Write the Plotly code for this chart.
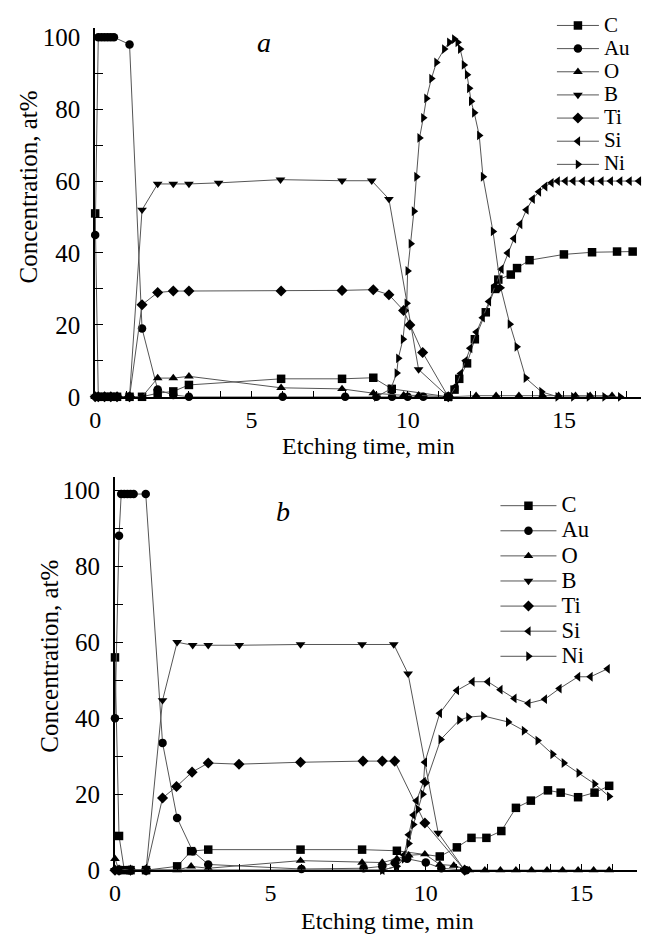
import plotly.graph_objects as go

# ---------------- Data: panel a ----------------
C_a_t = [0, 0.1, 0.3, 0.5, 0.7, 1.1, 1.5, 2.0, 2.5, 3.0, 5.95, 7.9, 8.9, 9.49, 11.3, 11.5, 11.65, 11.9, 12.15, 12.5, 12.8, 12.9, 13.3, 13.5, 13.9, 15.0, 15.9, 16.7, 17.2]
C_a_v = [51, 0, 0, 0, 0, 0, 0, 1, 1.5, 3.3, 5, 5, 5.3, 2.2, 0, 2, 5, 9.3, 16, 23.5, 30, 32.6, 34, 35.8, 38, 39.6, 40.2, 40.4, 40.4]

Au_a_t = [0, 0.1, 0.2, 0.3, 0.4, 0.5, 0.6, 1.1, 1.5, 2.0, 2.5, 3.0, 6.0, 8.0, 9.0, 9.5, 10.0, 10.5, 11.3]
Au_a_v = [45, 100, 100, 100, 100, 100, 100, 98, 19, 2, 0.5, 0, 0, 0, 0, 0, 0, 0, 0]

O_a_t = [0, 0.1, 0.3, 0.5, 0.7, 1.1, 1.5, 2.0, 2.5, 3.0, 5.95, 7.9, 8.9, 9.87, 10.35, 11.33, 12.19, 12.83, 13.56, 14.32, 14.83, 15.37, 15.84, 16.54]
O_a_v = [0, 0, 0, 0, 0, 0, 0, 5.2, 5.2, 5.7, 2.5, 2.2, 1.0, 0.4, 0.4, 0, 0.3, 0.3, 0.3, 0.3, 0.3, 0.3, 0.3, 0.3]

B_a_t = [0, 0.1, 0.3, 0.5, 0.7, 1.1, 1.5, 2.0, 2.5, 3.0, 3.95, 5.93, 7.9, 8.85, 9.4, 10.35, 11.3]
B_a_v = [0, 0, 0, 0, 0, 0, 52, 59.2, 59.2, 59.2, 59.5, 60.4, 60.1, 60.1, 55, 7.6, 0]

Ti_a_t = [0, 0.1, 0.3, 0.5, 0.7, 1.1, 1.5, 2.0, 2.5, 3.0, 5.95, 7.9, 8.9, 9.4, 9.87, 10.07, 10.48, 11.3]
Ti_a_v = [0, 0, 0, 0, 0, 0, 25.6, 29, 29.4, 29.4, 29.4, 29.6, 29.8, 28.4, 24, 20, 12.3, 0]

Si_a_t = [11.33, 11.55, 11.7, 11.85, 12.0, 12.2, 12.4, 12.6, 12.8, 13.0, 13.2, 13.4, 13.6, 13.8, 14.0, 14.2, 14.4, 14.6, 14.8, 15.05, 15.3, 15.6, 15.9, 16.2, 16.5, 16.8, 17.1, 17.4, 17.65]
Si_a_v = [0, 3, 6.5, 10, 13.5, 18, 22, 26.5, 31, 35.5, 40, 44, 48, 52, 55, 57, 58.5, 59.5, 60, 60, 60, 60, 60, 60, 60, 60, 60, 60, 60]

Ni_a_t = [9.0, 9.46, 9.65, 9.7, 9.85, 9.97, 10.0, 10.1, 10.2, 10.28, 10.38, 10.5, 10.6, 10.76, 10.92, 11.17, 11.33, 11.49, 11.6, 11.68, 11.8, 11.9, 11.97, 12.03, 12.13, 12.29, 12.41, 12.73, 12.98, 13.27, 13.49, 13.78, 14.28, 14.8, 15.3, 15.8, 16.3, 16.8]
Ni_a_v = [0, 2.2, 6.6, 10.7, 16, 26, 35, 42.6, 51.6, 61.2, 72, 77.6, 83, 88.5, 93, 96.7, 98.6, 99.5, 98.6, 96.7, 92.3, 89.6, 85.8, 82.2, 79, 72.7, 61.2, 46, 30.3, 20.2, 13.9, 5.2, 1.4, 0, 0, 0, 0, 0]

# ---------------- Data: panel b ----------------
C_b_t = [0, 0.13, 0.3, 0.5, 1.0, 2.0, 2.45, 3.0, 5.97, 7.95, 9.07, 10.45, 11.0, 11.47, 11.95, 12.43, 12.9, 13.38, 13.93, 14.34, 14.9, 15.43, 15.9]
C_b_v = [56, 9, 0, 0, 0, 1, 5, 5.4, 5.4, 5.4, 5.1, 3.6, 6, 8.5, 8.5, 10.3, 16.4, 18.3, 21, 20.4, 19.2, 20.4, 22.2]

Au_b_t = [0, 0.13, 0.2, 0.3, 0.4, 0.5, 0.6, 0.99, 1.53, 2.0, 2.5, 3.0, 6.0, 8.0, 8.6, 9.0, 9.4, 10.0, 10.5, 11.3]
Au_b_v = [40, 88, 99, 99, 99, 99, 99, 99, 33.5, 13.7, 5, 1.5, 0.3, 0.5, 1, 2, 3, 2, 0.5, 0]

O_b_t = [0, 0.13, 0.3, 0.5, 1.0, 2.0, 2.45, 3.0, 5.97, 7.95, 8.6, 9.07, 9.45, 9.97, 10.45, 10.9, 11.4, 11.9, 12.4, 12.9, 13.4, 13.9, 14.4, 14.9, 15.4, 15.9]
O_b_v = [3, 0, 0, 0, 0, 0, 1, 0.5, 2.5, 2, 2, 3, 3.9, 4.2, 1.5, 1.2, 0, 0, 0, 0, 0, 0, 0, 0, 0, 0]

B_b_t = [0, 0.13, 0.5, 1.0, 1.53, 2.0, 2.5, 3.0, 4.0, 5.97, 7.95, 8.97, 9.43, 10.4, 11.25]
B_b_v = [0, 0, 0, 0, 44.7, 60, 59.2, 59.2, 59.2, 59.4, 59.4, 59.4, 51.7, 9.8, 0]

Ti_b_t = [0, 0.13, 0.5, 1.0, 1.53, 1.98, 2.48, 3.0, 3.99, 5.97, 7.98, 8.6, 9.0, 9.97, 11.25]
Ti_b_v = [0, 0, 0, 0, 19, 22, 25.8, 28.2, 27.9, 28.4, 28.7, 28.7, 28.7, 12.4, 0]

Si_b_t = [0.13, 0.5, 1.0, 8.6, 9.07, 9.3, 9.45, 9.6, 9.7, 9.93, 9.97, 10.45, 11.0, 11.5, 12.0, 12.4, 12.85, 13.3, 13.83, 14.3, 14.9, 15.3, 15.85]
Si_b_v = [0, 0, 0, 0, 1, 4, 9.3, 14.5, 18.3, 23.3, 28.4, 41.3, 47.3, 49.6, 49.6, 47.5, 45.2, 43.9, 45, 47.8, 50.9, 50.9, 53]

Ni_b_t = [0.13, 0.5, 1.0, 8.6, 9.07, 9.3, 9.45, 9.6, 9.75, 9.9, 10.0, 10.48, 11.08, 11.37, 11.85, 12.65, 13.16, 13.6, 14.08, 14.44, 14.92, 15.43, 15.9]
Ni_b_v = [0, 0, 0, 0, 1, 3, 7, 12, 16, 20, 23, 34.4, 39.5, 40.3, 40.6, 39, 36.7, 34.1, 30.5, 28.2, 25.6, 22.7, 19.4]

names = ["C", "Au", "O", "B", "Ti", "Si", "Ni"]
symbols = ["square", "circle", "triangle-up", "triangle-down", "diamond", "triangle-left", "triangle-right"]
panel_a = [(C_a_t, C_a_v), (Au_a_t, Au_a_v), (O_a_t, O_a_v), (B_a_t, B_a_v),
           (Ti_a_t, Ti_a_v), (Si_a_t, Si_a_v), (Ni_a_t, Ni_a_v)]
panel_b = [(C_b_t, C_b_v), (Au_b_t, Au_b_v), (O_b_t, O_b_v), (B_b_t, B_b_v),
           (Ti_b_t, Ti_b_v), (Si_b_t, Si_b_v), (Ni_b_t, Ni_b_v)]

SERIF = "Liberation Serif"
fig = go.Figure()

for (t, v), nm, sym in zip(panel_a, names, symbols):
    fig.add_trace(go.Scatter(
        x=t, y=v, mode="lines+markers", xaxis="x", yaxis="y", legend="legend",
        name=f'<span style="font-size:21px">{nm}</span>',
        line=dict(color="#555", width=1),
        marker=dict(symbol=sym, size=8.5, color="black"),
        cliponaxis=False))

for (t, v), nm, sym in zip(panel_b, names, symbols):
    fig.add_trace(go.Scatter(
        x=t, y=v, mode="lines+markers", xaxis="x2", yaxis="y2", legend="legend2",
        name=f'<span style="font-size:22.5px">{nm}</span>',
        line=dict(color="#555", width=1),
        marker=dict(symbol=sym, size=8.5, color="black"),
        cliponaxis=False))

W, H = 652, 947


def xaxis_style():
    return dict(showline=True, linecolor="black", linewidth=2, ticks="inside", ticklen=6,
                tickwidth=1, tickcolor="black", dtick=5, tick0=0,
                minor=dict(dtick=1, ticks="inside", ticklen=6, tickcolor="black"),
                showgrid=False, zeroline=False, ticklabelstandoff=0,
                tickfont=dict(family=SERIF, size=24, color="black"))


def yaxis_style():
    return dict(showline=True, linecolor="black", linewidth=2, ticks="inside", ticklen=8,
                tickwidth=1, tickcolor="black", dtick=20, tick0=0,
                minor=dict(dtick=10, ticks="inside", ticklen=8, tickcolor="black"),
                showgrid=False, zeroline=False, ticklabelstandoff=8,
                tickfont=dict(family=SERIF, size=25, color="black"))


def label(text, x, y, size, angle=0):
    return dict(text=text, x=x / W, y=1 - y / H, xref="paper", yref="paper",
                xanchor="center", yanchor="middle", showarrow=False, textangle=angle,
                font=dict(family=SERIF, size=size, color="black"))


fig.update_layout(
    width=W, height=H, margin=dict(l=0, r=0, t=0, b=0),
    paper_bgcolor="white", plot_bgcolor="white",
    font=dict(family=SERIF, color="black"),
    xaxis=dict(domain=[90 / W, 641 / W], range=[0, 17.47], anchor="y", **xaxis_style()),
    yaxis=dict(domain=[1 - 401 / H, 1 - 25 / H], range=[0, 102.7], anchor="x", **yaxis_style()),
    xaxis2=dict(domain=[110 / W, 637 / W], range=[0, 16.8], anchor="y2", **xaxis_style()),
    yaxis2=dict(domain=[1 - 883 / H, 1 - 483 / H], range=[0, 103.4], anchor="x2", **yaxis_style()),
    legend=dict(x=551 / W, y=1 - 6 / H, xanchor="left", yanchor="top",
                font=dict(family=SERIF, size=15.5, color="black"), borderwidth=0,
                bgcolor="rgba(0,0,0,0)", itemwidth=42, tracegroupgap=0),
    legend2=dict(x=494 / W, y=1 - 494 / H, xanchor="left", yanchor="top",
                 font=dict(family=SERIF, size=17, color="black"), borderwidth=0,
                 bgcolor="rgba(0,0,0,0)", itemwidth=56, tracegroupgap=0),
    annotations=[
        label("<i>a</i>", 260, 40, 28),
        label("<i>b</i>", 280, 518, 28),
        label("Etching time, min", 366, 451, 24),
        label("Etching time, min", 385, 935, 24),
        label("Concentration, at%", 23, 187, 25, -90),
        label("Concentration, at%", 43, 665, 25, -90),
    ],
)

fig.write_html("out.html")
